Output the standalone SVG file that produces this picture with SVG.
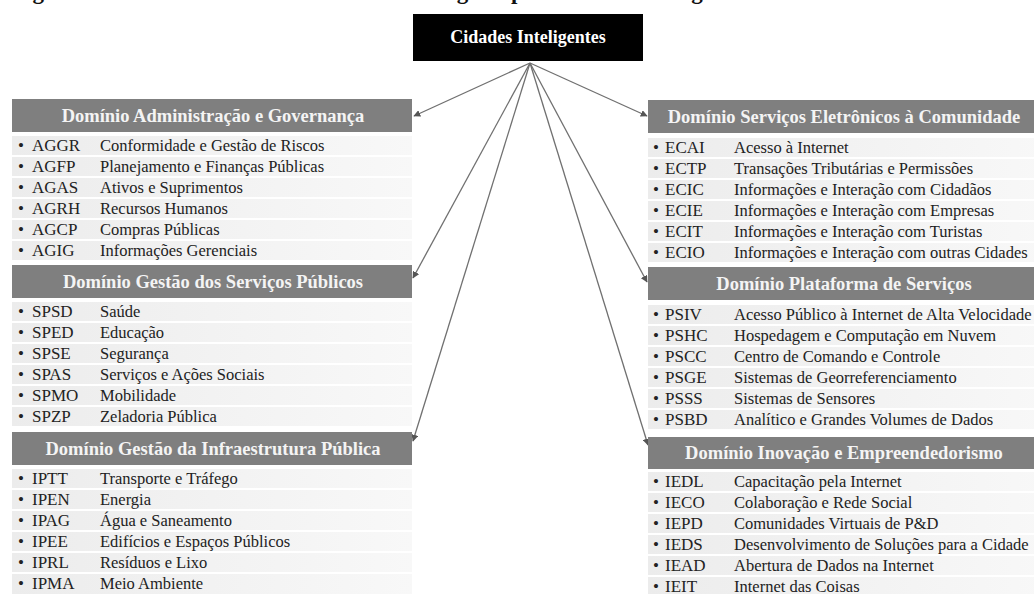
<svg xmlns="http://www.w3.org/2000/svg" width="1034" height="594" viewBox="0 0 1034 594">
<style>
.cap{font-family:"Liberation Serif",serif;font-weight:bold;font-size:23px;fill:#111}
.hd{fill:#7f7f7f}
.hdt{font-family:"Liberation Serif",serif;font-weight:bold;font-size:18.5px;fill:#f4f4f4;text-anchor:middle}
.row{fill:url(#rg)}
.it{font-family:"Liberation Serif",serif;font-size:16.5px;fill:#222}
.cd{font-family:"Liberation Serif",serif;font-size:17px;fill:#222}
.con{stroke:#707070;stroke-width:1.3;fill:none;marker-end:url(#ah)}
.top{font-family:"Liberation Serif",serif;font-weight:bold;font-size:18px;fill:#fff;text-anchor:middle}
</style>
<defs>
<linearGradient id="rg" x1="0" y1="0" x2="1" y2="0">
<stop offset="0" stop-color="#ececec"/><stop offset="1" stop-color="#f8f8f8"/>
</linearGradient>
<marker id="ah" viewBox="0 0 10 10" refX="9" refY="5" markerWidth="7" markerHeight="7" markerUnits="userSpaceOnUse" orient="auto">
<path d="M0,0 L10,5 L0,10 z" fill="#555"/>
</marker>
</defs>
<rect width="1034" height="594" fill="#fff"/>
<text class="cap" x="12" y="-1.5">Figura 4 – Dimensões e subdimensões tecnológicas para cidades inteligentes.</text>

<g id="cidades">
<rect x="413" y="14" width="230" height="47" fill="#000"/>
<text class="top" x="528" y="43">Cidades Inteligentes</text>
</g>

<g id="connectors">
<line class="con" x1="530" y1="63" x2="414" y2="116"/>
<line class="con" x1="530" y1="63" x2="647" y2="116"/>
<line class="con" x1="530" y1="63" x2="413" y2="278"/>
<line class="con" x1="530" y1="63" x2="647" y2="282"/>
<line class="con" x1="530" y1="63" x2="413" y2="441"/>
<line class="con" x1="530" y1="63" x2="648" y2="445"/>
</g>

<g id="adm">
<rect class="hd" x="12" y="99" width="400" height="33"/>
<text class="hdt" x="213" y="122">Domínio Administração e Governança</text>
<rect class="row" x="12" y="136" width="400" height="19"/>
<rect class="row" x="12" y="157" width="400" height="19"/>
<rect class="row" x="12" y="178" width="400" height="19"/>
<rect class="row" x="12" y="199" width="400" height="19"/>
<rect class="row" x="12" y="220" width="400" height="19"/>
<rect class="row" x="12" y="241" width="400" height="19"/>
<text class="cd" x="18" y="151">•</text><text class="cd" x="32" y="151">AGGR</text><text class="it" x="100" y="151">Conformidade e Gestão de Riscos</text>
<text class="cd" x="18" y="172">•</text><text class="cd" x="32" y="172">AGFP</text><text class="it" x="100" y="172">Planejamento  e Finanças Públicas</text>
<text class="cd" x="18" y="193">•</text><text class="cd" x="32" y="193">AGAS</text><text class="it" x="100" y="193">Ativos e Suprimentos</text>
<text class="cd" x="18" y="214">•</text><text class="cd" x="32" y="214">AGRH</text><text class="it" x="100" y="214">Recursos Humanos</text>
<text class="cd" x="18" y="235">•</text><text class="cd" x="32" y="235">AGCP</text><text class="it" x="100" y="235">Compras Públicas</text>
<text class="cd" x="18" y="256">•</text><text class="cd" x="32" y="256">AGIG</text><text class="it" x="100" y="256">Informações Gerenciais</text>
</g>

<g id="sp">
<rect class="hd" x="12" y="265" width="400" height="33"/>
<text class="hdt" x="213" y="288">Domínio Gestão dos Serviços Públicos</text>
<rect class="row" x="12" y="302" width="400" height="19"/>
<rect class="row" x="12" y="323" width="400" height="19"/>
<rect class="row" x="12" y="344" width="400" height="19"/>
<rect class="row" x="12" y="365" width="400" height="19"/>
<rect class="row" x="12" y="386" width="400" height="19"/>
<rect class="row" x="12" y="407" width="400" height="19"/>
<text class="cd" x="18" y="317">•</text><text class="cd" x="32" y="317">SPSD</text><text class="it" x="100" y="317">Saúde</text>
<text class="cd" x="18" y="338">•</text><text class="cd" x="32" y="338">SPED</text><text class="it" x="100" y="338">Educação</text>
<text class="cd" x="18" y="359">•</text><text class="cd" x="32" y="359">SPSE</text><text class="it" x="100" y="359">Segurança</text>
<text class="cd" x="18" y="380">•</text><text class="cd" x="32" y="380">SPAS</text><text class="it" x="100" y="380">Serviços e Ações Sociais</text>
<text class="cd" x="18" y="401">•</text><text class="cd" x="32" y="401">SPMO</text><text class="it" x="100" y="401">Mobilidade</text>
<text class="cd" x="18" y="422">•</text><text class="cd" x="32" y="422">SPZP</text><text class="it" x="100" y="422">Zeladoria  Pública</text>
</g>

<g id="ip">
<rect class="hd" x="12" y="432" width="400" height="33"/>
<text class="hdt" x="213" y="455">Domínio Gestão da Infraestrutura  Pública</text>
<rect class="row" x="12" y="469" width="400" height="19"/>
<rect class="row" x="12" y="490" width="400" height="19"/>
<rect class="row" x="12" y="511" width="400" height="19"/>
<rect class="row" x="12" y="532" width="400" height="19"/>
<rect class="row" x="12" y="553" width="400" height="19"/>
<rect class="row" x="12" y="574" width="400" height="20"/>
<text class="cd" x="18" y="484">•</text><text class="cd" x="32" y="484">IPTT</text><text class="it" x="100" y="484">Transporte e Tráfego</text>
<text class="cd" x="18" y="505">•</text><text class="cd" x="32" y="505">IPEN</text><text class="it" x="100" y="505">Energia</text>
<text class="cd" x="18" y="526">•</text><text class="cd" x="32" y="526">IPAG</text><text class="it" x="100" y="526">Água e Saneamento</text>
<text class="cd" x="18" y="547">•</text><text class="cd" x="32" y="547">IPEE</text><text class="it" x="100" y="547">Edifícios e Espaços Públicos</text>
<text class="cd" x="18" y="568">•</text><text class="cd" x="32" y="568">IPRL</text><text class="it" x="100" y="568">Resíduos e Lixo</text>
<text class="cd" x="18" y="589">•</text><text class="cd" x="32" y="589">IPMA</text><text class="it" x="100" y="589">Meio Ambiente</text>
</g>

<g id="ec">
<rect class="hd" x="648" y="100" width="400" height="33"/>
<text class="hdt" x="844" y="123">Domínio Serviços Eletrônicos à Comunidade</text>
<rect class="row" x="648" y="138" width="400" height="19"/>
<rect class="row" x="648" y="159" width="400" height="19"/>
<rect class="row" x="648" y="180" width="400" height="19"/>
<rect class="row" x="648" y="201" width="400" height="19"/>
<rect class="row" x="648" y="222" width="400" height="19"/>
<rect class="row" x="648" y="243" width="400" height="19"/>
<text class="cd" x="653" y="153">•</text><text class="cd" x="665" y="153">ECAI</text><text class="it" x="734" y="153">Acesso à Internet</text>
<text class="cd" x="653" y="174">•</text><text class="cd" x="665" y="174">ECTP</text><text class="it" x="734" y="174">Transações Tributárias  e Permissões</text>
<text class="cd" x="653" y="195">•</text><text class="cd" x="665" y="195">ECIC</text><text class="it" x="734" y="195">Informações e Interação  com Cidadãos</text>
<text class="cd" x="653" y="216">•</text><text class="cd" x="665" y="216">ECIE</text><text class="it" x="734" y="216">Informações e Interação  com Empresas</text>
<text class="cd" x="653" y="237">•</text><text class="cd" x="665" y="237">ECIT</text><text class="it" x="734" y="237">Informações e Interação  com Turistas</text>
<text class="cd" x="653" y="258">•</text><text class="cd" x="665" y="258">ECIO</text><text class="it" x="734" y="258">Informações e Interação  com outras Cidades</text>
</g>

<g id="ps">
<rect class="hd" x="648" y="267" width="400" height="33"/>
<text class="hdt" x="844" y="290">Domínio Plataforma de Serviços</text>
<rect class="row" x="648" y="305" width="400" height="19"/>
<rect class="row" x="648" y="326" width="400" height="19"/>
<rect class="row" x="648" y="347" width="400" height="19"/>
<rect class="row" x="648" y="368" width="400" height="19"/>
<rect class="row" x="648" y="389" width="400" height="19"/>
<rect class="row" x="648" y="410" width="400" height="19"/>
<text class="cd" x="653" y="320">•</text><text class="cd" x="665" y="320">PSIV</text><text class="it" x="734" y="320">Acesso Público à Internet de Alta Velocidade</text>
<text class="cd" x="653" y="341">•</text><text class="cd" x="665" y="341">PSHC</text><text class="it" x="734" y="341">Hospedagem e Computação em Nuvem</text>
<text class="cd" x="653" y="362">•</text><text class="cd" x="665" y="362">PSCC</text><text class="it" x="734" y="362">Centro de Comando e Controle</text>
<text class="cd" x="653" y="383">•</text><text class="cd" x="665" y="383">PSGE</text><text class="it" x="734" y="383">Sistemas de Georreferenciamento</text>
<text class="cd" x="653" y="404">•</text><text class="cd" x="665" y="404">PSSS</text><text class="it" x="734" y="404">Sistemas de Sensores</text>
<text class="cd" x="653" y="425">•</text><text class="cd" x="665" y="425">PSBD</text><text class="it" x="734" y="425">Analítico e Grandes Volumes de Dados</text>
</g>

<g id="ie">
<rect class="hd" x="648" y="437" width="400" height="32"/>
<text class="hdt" x="844" y="459">Domínio Inovação e Empreendedorismo</text>
<rect class="row" x="648" y="472" width="400" height="19"/>
<rect class="row" x="648" y="493" width="400" height="19"/>
<rect class="row" x="648" y="514" width="400" height="19"/>
<rect class="row" x="648" y="535" width="400" height="19"/>
<rect class="row" x="648" y="556" width="400" height="19"/>
<rect class="row" x="648" y="577" width="400" height="17"/>
<text class="cd" x="653" y="487">•</text><text class="cd" x="665" y="487">IEDL</text><text class="it" x="734" y="487">Capacitação pela Internet</text>
<text class="cd" x="653" y="508">•</text><text class="cd" x="665" y="508">IECO</text><text class="it" x="734" y="508">Colaboração e Rede Social</text>
<text class="cd" x="653" y="529">•</text><text class="cd" x="665" y="529">IEPD</text><text class="it" x="734" y="529">Comunidades Virtuais  de P&amp;D</text>
<text class="cd" x="653" y="550">•</text><text class="cd" x="665" y="550">IEDS</text><text class="it" x="734" y="550">Desenvolvimento  de Soluções para a Cidade</text>
<text class="cd" x="653" y="571">•</text><text class="cd" x="665" y="571">IEAD</text><text class="it" x="734" y="571">Abertura de Dados na Internet</text>
<text class="cd" x="653" y="592">•</text><text class="cd" x="665" y="592">IEIT</text><text class="it" x="734" y="592">Internet  das Coisas</text>
</g>
</svg>
